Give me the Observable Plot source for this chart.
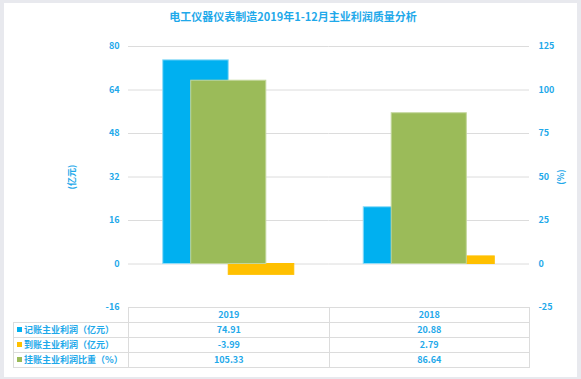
<!DOCTYPE html>
<html>
<head>
<meta charset="utf-8">
<script src="https://cdn.jsdelivr.net/npm/d3@7"></script>
<script src="https://cdn.jsdelivr.net/npm/@observablehq/plot@0.6"></script>
<style>
html, body { margin: 0; padding: 0; background: #e8e9ee; }
#wrap { position: relative; width: 581px; height: 379px; overflow: hidden; font-family: "Noto Sans CJK SC", "Noto Sans", sans-serif; }
#panel { position: absolute; left: 4px; top: 3px; width: 573px; height: 374px; background: #ffffff; }
#title { position: absolute; left: 0; top: 8px; width: 586px; text-align: center; font-size: 11px; font-weight: bold; color: #1fa9ea; line-height: 16px; }
#chart { position: absolute; left: 0; top: 30px; }
#table { position: absolute; left: 13px; top: 307px; border-collapse: collapse; table-layout: fixed; font-size: 9px; color: #1fa9ea; font-weight: bold; }
#table td { border: 1px solid #dcdcdc; height: 14px; padding: 0; line-height: 14px; text-align: center; white-space: nowrap; }
#table td.lab { text-align: left; padding-left: 3px; }
#table td.blank { border: none; }
.mk { display: inline-block; width: 5px; height: 5px; margin-right: 2px; vertical-align: 1px; }
</style>
</head>
<body>
<div id="wrap">
  <div id="panel"></div>
  <div id="title">电工仪器仪表制造2019年1-12月主业利润质量分析</div>
  <div id="chart"></div>
  <table id="table"></table>
</div>
<script>
const categories = ["2019", "2018"];
const seriesNames = ["记账主业利润（亿元）", "到账主业利润（亿元）", "挂账主业利润比重（%）"];
const bookedProfit = [74.91, 20.88];
const receivedProfit = [-3.99, 2.79];
const outstandingShare = [105.33, 86.64];
const leftTicks = [-16, 0, 16, 32, 48, 64, 80];
const rightTicks = [-25, 0, 25, 50, 75, 100, 125];
const leftTitle = "(亿元)";
const rightTitle = "(%)";

const colors = ["#00b0f0", "#ffc000", "#9bbb59"];
const strokes = ["#8fdcf8", "#ffc000", "#c3d69b"];
const textColor = "#1fa9ea";

const leftDomain = [leftTicks[0], leftTicks[leftTicks.length - 1]];
const rightDomain = [rightTicks[0], rightTicks[rightTicks.length - 1]];
const k = (leftDomain[1] - leftDomain[0]) / (rightDomain[1] - rightDomain[0]);
const toLeft = r => leftDomain[0] + (r - rightDomain[0]) * k;
const toRight = l => rightDomain[0] + (l - leftDomain[0]) / k;

const booked = categories.map((c, i) => ({category: c, series: "booked", value: bookedProfit[i]}));
const received = categories.map((c, i) => ({category: c, series: "received", value: receivedProfit[i]}));
const share = categories.map((c, i) => ({category: c, value: toLeft(outstandingShare[i])}));

const width = 581, height = 290, marginLeft = 128, marginRight = 52, marginTop = 16, marginBottom = 13;
const step = (width - marginLeft - marginRight) / categories.length;
const primaryGap = 1.06, secondaryGap = 1.67;
const secondaryInset = step * secondaryGap / (1 + secondaryGap) / 2;

const axisStyle = {tickSize: 0, tickPadding: 9, fontSize: 9, fontWeight: "bold", labelArrow: "none", labelAnchor: "center"};

const chart = Plot.plot({
  width, height, marginLeft, marginRight, marginTop, marginBottom,
  style: {color: textColor, background: "transparent", fontFamily: "'Noto Sans CJK SC', 'Noto Sans', sans-serif"},
  fx: {domain: categories, padding: 0, round: false, axis: null, label: null},
  x: {domain: ["booked", "received"], paddingInner: 0, paddingOuter: primaryGap / 2, round: false, axis: null},
  y: {domain: leftDomain, axis: null},
  marks: [
    Plot.gridY(leftTicks, {stroke: "#dcdcdc", strokeOpacity: 1, strokeWidth: 1}),
    Plot.axisY(leftTicks, {...axisStyle, anchor: "left", label: leftTitle, labelOffset: 60,
      tickFormat: d => String(d)}),
    Plot.axisY(rightTicks.map(toLeft), {...axisStyle, anchor: "right", label: rightTitle, labelOffset: 34,
      tickFormat: d => String(Math.round(toRight(d)))}),
    Plot.barY(booked, {fx: "category", x: "series", y: "value", fill: colors[0], stroke: strokes[0], strokeWidth: 1}),
    Plot.barY(received, {fx: "category", x: "series", y: "value", fill: colors[1], stroke: strokes[1], strokeWidth: 1}),
    Plot.barY(share, {fx: "category", y: "value", fill: colors[2], stroke: strokes[2], strokeWidth: 1,
      insetLeft: secondaryInset, insetRight: secondaryInset})
  ]
});
document.getElementById("chart").appendChild(chart);

// data table
const seriesValues = [bookedProfit, receivedProfit, outstandingShare];
const table = document.getElementById("table");
const colgroup = document.createElement("colgroup");
[marginLeft - 13, step, step].forEach(w => {
  const col = document.createElement("col");
  col.style.width = w + "px";
  colgroup.appendChild(col);
});
table.appendChild(colgroup);
const head = document.createElement("tr");
const blank = document.createElement("td");
blank.className = "blank";
head.appendChild(blank);
categories.forEach(c => {
  const td = document.createElement("td");
  td.textContent = c;
  head.appendChild(td);
});
table.appendChild(head);
seriesNames.forEach((name, s) => {
  const tr = document.createElement("tr");
  const lab = document.createElement("td");
  lab.className = "lab";
  const mk = document.createElement("span");
  mk.className = "mk";
  mk.style.background = colors[s];
  lab.appendChild(mk);
  lab.appendChild(document.createTextNode(name));
  tr.appendChild(lab);
  seriesValues[s].forEach(v => {
    const td = document.createElement("td");
    td.textContent = v.toFixed(2);
    tr.appendChild(td);
  });
  table.appendChild(tr);
});
</script>
</body>
</html>
